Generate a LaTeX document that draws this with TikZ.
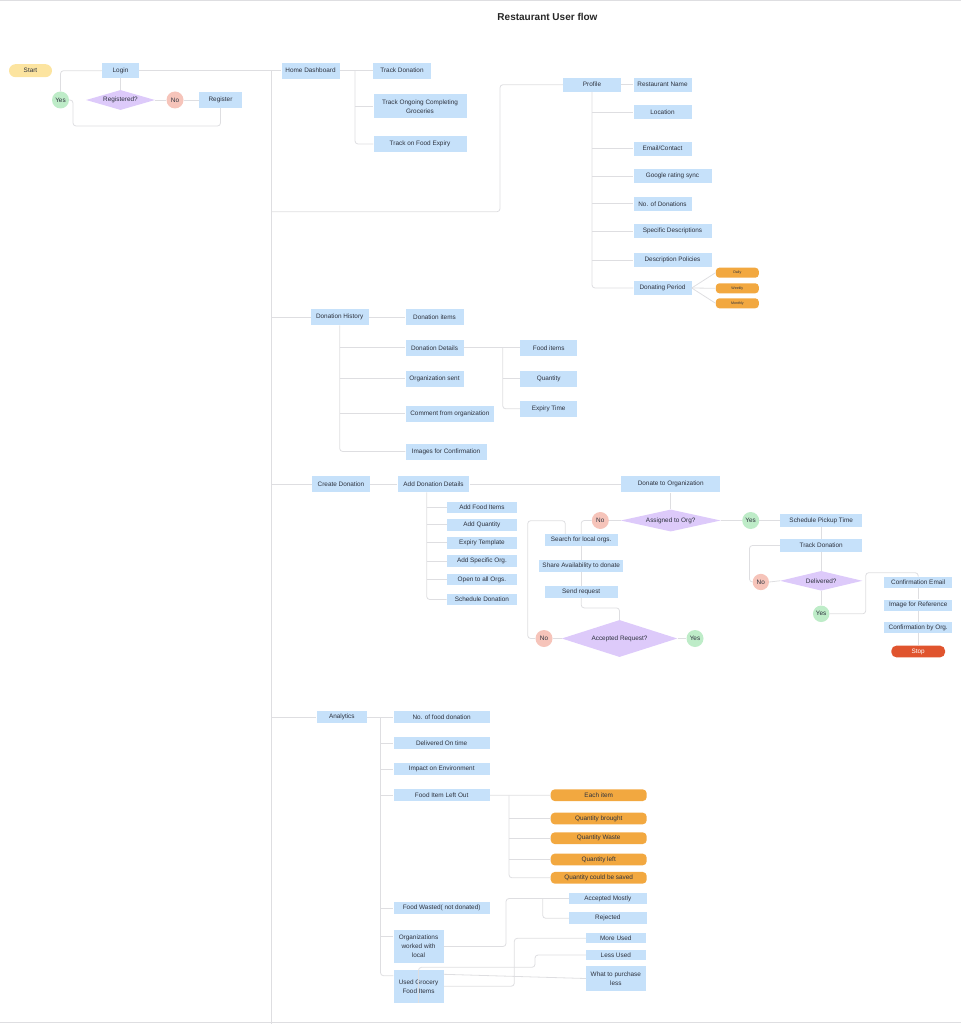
\documentclass[tikz,border=0pt]{standalone}
\usepackage{fontspec}
\setmainfont{Liberation Sans}
\usepackage{tikz}
\usetikzlibrary{shapes.geometric, calc}
\definecolor{boxblue}{RGB}{198,225,250}
\definecolor{linegray}{RGB}{222,222,225}
\definecolor{inkgray}{RGB}{45,50,62}
\definecolor{startyel}{RGB}{252,228,160}
\definecolor{yesgreen}{RGB}{190,236,200}
\definecolor{nored}{RGB}{246,196,186}
\definecolor{decpurple}{RGB}{221,202,250}
\definecolor{tagorange}{RGB}{242,168,64}
\definecolor{stopred}{RGB}{224,84,46}

\begin{document}
\begin{tikzpicture}[
    x=1pt, y=-1pt,
    every node/.style={text=inkgray, font=\fontsize{6.4}{9}\selectfont, inner sep=0pt},
    box/.style={rectangle, fill=boxblue, align=center},
    dec/.style={diamond, aspect=4, fill=decpurple},
    yesc/.style={circle, fill=yesgreen, minimum size=17pt},
    noc/.style={circle, fill=nored, minimum size=17pt},
    tag/.style={rectangle, rounded corners=4pt, fill=tagorange, minimum width=96, minimum height=11.7},
    mini/.style={rectangle, rounded corners=3.5pt, fill=tagorange, minimum width=43, minimum height=10, font=\fontsize{3.6}{4}\selectfont},
    link/.style={draw=linegray, line width=0.8pt, rounded corners=3pt}
]
\useasboundingbox (0,0) rectangle (961,1024);
\draw[linegray, line width=0.6pt] (0,0.6) -- (961,0.6);
\draw[linegray, line width=0.6pt] (0,1022.6) -- (961,1022.6);
\node[font=\fontsize{10}{12}\selectfont\bfseries, text=black!85] (title) at (547.5,16.5) {Restaurant User flow};

% login
\node[rectangle, rounded corners=6.5pt, fill=startyel, minimum width=43, minimum height=13] (start) at (30.5,70.7) {Start};
\node[box, minimum width=37, minimum height=15] (login) at (120.5,70.7) {Login};
\node[dec, minimum width=69, minimum height=20] (reg) at (120.5,100) {Registered?};
\node[yesc] (yes1) at (60.5,100) {Yes};
\node[noc] (no1) at (175,100) {No};
\node[box, minimum width=43, minimum height=16] (register) at (220.5,100) {Register};
\coordinate (regloop) at (73,126);
\draw[link] (yes1.north) |- (login.west);
\draw[link] (login.south) -- (reg.north);
\draw[link] (reg.east) -- (no1.west);
\draw[link] (no1.east) -- (register.west);
\draw[link] (register.south) |- (regloop) |- (yes1.east);

% trunk
\coordinate (trunktop) at (271,70.7);
\coordinate (trunkbot) at (271,1024);
\draw[link] (trunktop) -- (trunkbot);

% home
\node[box, minimum width=58, minimum height=16] (home) at (310.5,70.7) {Home Dashboard};
\node[box, minimum width=58, minimum height=16] (trackdon) at (402,70.7) {Track Donation};
\node[box, minimum width=93, minimum height=24] (trackgro) at (420,106.5) {Track Ongoing Completing\\Groceries};
\node[box, minimum width=93, minimum height=16] (trackexp) at (420,144) {Track on Food Expiry};
\coordinate (hbus) at (355,70.7);
\draw[link] (login.east) -- (home.west);
\draw[link] (home.east) -- (trackdon.west);
\draw[link] (hbus) |- (trackexp.west);
\draw[link] (hbus |- trackgro.west) -- (trackgro.west);

% profile
\node[box, minimum width=58, minimum height=14] (prof) at (592,84.7) {Profile};
\coordinate (pbend) at (500,211.7);
\draw[link] (trunktop |- pbend) -- (pbend) |- (prof.west);
\foreach \n/\y/\w/\txt in {pname/84.7/58/Restaurant Name, ploc/112/58/Location,
    pmail/148.7/58/{Email/Contact}, pgoog/176.3/78/Google rating sync,
    pnum/203.8/58/No. of Donations, pspec/231.3/78/Specific Descriptions,
    ppol/260.3/78/Description Policies, pper/288/58/Donating Period}{
    \node[box, anchor=west, minimum width=\w, minimum height=14] (\n) at (633.3,\y) {\txt};
}
\draw[link] (prof.east) -- (pname.west);
\draw[link] (prof.south) |- (pper.west);
\foreach \n in {ploc, pmail, pgoog, pnum, pspec, ppol}{
    \draw[link] (prof.south |- \n.west) -- (\n.west);
}
\foreach \n/\y/\txt in {daily/272.7/Daily, weekly/288.3/Weekly, monthly/303.3/Monthly}{
    \node[mini] (\n) at (737.3,\y) {\txt};
    \draw[link] (pper.east) -- (\n.west);
}

% donation history
\node[box, minimum width=58, minimum height=16] (dh) at (339.7,317.2) {Donation History};
\foreach \n/\y/\w/\txt in {ditems/317.2/58/Donation items, ddet/347.8/58/Donation Details,
    dorg/378.5/58/Organization sent, dcom/413.5/88.7/Comment from organization,
    dimg/451.5/81/Images for Confirmation}{
    \node[box, anchor=west, minimum width=\w, minimum height=16] (\n) at (405.3,\y) {\txt};
}
\draw[link] (trunktop |- dh.west) -- (dh.west);
\draw[link] (dh.east) -- (ditems.west);
\draw[link] (dh.south) |- (dimg.west);
\foreach \n in {ddet, dorg, dcom}{
    \draw[link] (dh.south |- \n.west) -- (\n.west);
}
\foreach \n/\y/\txt in {dfood/347.8/Food items, dqty/378.5/Quantity, dexp/408.8/Expiry Time}{
    \node[box, anchor=west, minimum width=57, minimum height=16] (\n) at (520,\y) {\txt};
}
\coordinate (dbus) at (502.7,347.8);
\draw[link] (ddet.east) -- (dfood.west);
\draw[link] (dbus) |- (dexp.west);
\draw[link] (dbus |- dqty.west) -- (dqty.west);

% create donation
\node[box, minimum width=58, minimum height=16.7] (cd) at (341,484) {Create Donation};
\node[box, minimum width=71.7, minimum height=16.7] (add) at (433.5,484) {Add Donation Details};
\node[box, minimum width=99.3, minimum height=16.7] (dto) at (670.7,484) {Donate to Organization};
\draw[link] (trunktop |- cd.west) -- (cd.west);
\draw[link] (cd.east) -- (add.west);
\draw[link] (add.east) -- (dto.west);
\foreach \n/\y/\txt in {afood/507.5/Add Food Items, aqty/524.8/Add Quantity,
    aexp/542.8/Expiry Template, aspec/561/Add Specific Org.,
    aopen/579.5/Open to all Orgs., asch/599.5/Schedule Donation}{
    \node[box, anchor=west, minimum width=70, minimum height=11.7] (\n) at (446.7,\y) {\txt};
}
\coordinate (abus) at (426.7,492.3);
\draw[link] (abus) |- (asch.west);
\foreach \n in {afood, aqty, aexp, aspec, aopen}{
    \draw[link] (abus |- \n.west) -- (\n.west);
}

\node[dec, minimum width=100, minimum height=22] (asg) at (670.7,520.5) {Assigned to Org?};
\node[noc] (no2) at (600.3,520.5) {No};
\node[box, minimum width=73, minimum height=11.7] (search) at (581.2,539.8) {Search for local orgs.};
\node[box, minimum width=83.7, minimum height=11.7] (share) at (581.2,565.8) {Share Availability to donate};
\node[box, minimum width=73, minimum height=12] (send) at (581.2,591.7) {Send request};
\node[dec, minimum width=115.6, minimum height=37] (accr) at (619.5,638.5) {Accepted Request?};
\node[noc] (no3) at (544,638.5) {No};
\node[yesc] (yes3) at (695,638.5) {Yes};
\coordinate (retry) at (527.7,520.7);
\coordinate (retry2) at (565.3,520.7);
\draw[link] (dto.south) -- (asg.north);
\draw[link] (asg.west) -- (no2.east);
\draw[link] (no2.west) -| (search.north);
\draw[link] (search.south) -- (share.north);
\draw[link] (share.south) -- (send.north);
\draw[link] (send.south) -- ++(0,10) -| (accr.north);
\draw[link] (accr.west) -- (no3.east);
\draw[link] (accr.east) -- (yes3.west);
\draw[link] (no3.west) -| (retry) -- (retry2) -- (retry2 |- search.north);

\node[yesc] (yes2) at (750.7,520.5) {Yes};
\node[box, minimum width=82.3, minimum height=12.3] (pick) at (821.2,520.5) {Schedule Pickup Time};
\node[box, minimum width=82.3, minimum height=12.3] (track) at (821.2,545.5) {Track Donation};
\node[dec, minimum width=82.4, minimum height=19.7] (deliv) at (821.2,580.8) {Delivered?};
\node[noc, minimum size=16.3pt] (no4) at (760.8,582) {No};
\node[yesc, minimum size=16.5pt] (yes4) at (821.2,613.8) {Yes};
\draw[link] (asg.east) -- (yes2.west);
\draw[link] (yes2.east) -- (pick.west);
\draw[link] (pick.south) -- (track.north);
\draw[link] (track.south) -- (deliv.north);
\draw[link] (deliv.west) -- (no4.east);
\draw[link] (no4.west) -- ++(-3,0) |- (track.west);
\draw[link] (deliv.south) -- (yes4.north);
\node[box, minimum width=68.3, minimum height=11] (cemail) at (918.2,582.2) {Confirmation Email};
\node[box, minimum width=68.3, minimum height=11] (cimg) at (918.2,605) {Image for Reference};
\node[box, minimum width=68.3, minimum height=11] (corg) at (918.2,627.7) {Confirmation by Org.};
\node[rectangle, rounded corners=5pt, fill=stopred, text=white, minimum width=53.7, minimum height=11.7] (stop) at (918.2,651.5) {Stop};
\coordinate (cbend) at (865.7,572.7);
\draw[link] (yes4.east) -| (cbend) -| (cemail.north);
\draw[link] (cemail.south) -- (cimg.north);
\draw[link] (cimg.south) -- (corg.north);
\draw[link] (corg.south) -- (stop.north);

% analytics
\node[box, minimum width=50.3, minimum height=12] (ana) at (341.8,717.3) {Analytics};
\foreach \n/\y/\txt in {annum/717.3/No. of food donation, andel/743.3/Delivered On time,
    animp/769.3/Impact on Environment, anleft/795.3/Food Item Left Out,
    anwaste/908.3/Food Wasted( not donated)}{
    \node[box, anchor=west, minimum width=96.3, minimum height=12] (\n) at (393.3,\y) {\txt};
}
\node[box, anchor=west, minimum width=50, minimum height=33] (anorg) at (393.3,946.5) {Organizations\\worked with\\local};
\node[box, anchor=west, minimum width=50, minimum height=33] (angroc) at (393.3,986.2) {Used Grocery\\Food Items};
\coordinate (anbus) at (380.5,717.3);
\draw[link] (trunktop |- ana.west) -- (ana.west);
\draw[link] (ana.east) -- (annum.west);
\draw[link] (anbus) |- ([yshift=10.5pt]angroc.west);
\draw[link] (anbus |- anorg.west) ++(0,-10.5) -- ([yshift=10.5pt]anorg.west);
\foreach \n in {andel, animp, anleft, anwaste}{
    \draw[link] (anbus |- \n.west) -- (\n.west);
}
\foreach \n/\y/\txt in {teach/795.2/Each item, tbro/818.5/Quantity brought,
    twas/838.2/Quantity Waste, tleft/859.5/Quantity left,
    tsave/877.8/Quantity could be saved}{
    \node[tag] (\n) at (598.7,\y) {\txt};
}
\coordinate (tbus) at (509,795.3);
\draw[link] (anleft.east) -- (teach.west);
\draw[link] (tbus) |- (tsave.west);
\foreach \n in {tbro, twas, tleft}{
    \draw[link] (tbus |- \n.west) -- (\n.west);
}

\node[box, minimum width=77.7, minimum height=11.7] (racc) at (607.8,898.5) {Accepted Mostly};
\node[box, minimum width=77.7, minimum height=11.7] (rrej) at (607.8,918.3) {Rejected};
\coordinate (obus) at (506,898.5);
\coordinate (rbus) at (542.7,898.5);
\draw[link] (anorg.east) -| (obus) -- (racc.west);
\draw[link] (rbus) |- (rrej.west);

\node[box, minimum width=59.7, minimum height=10] (umore) at (615.8,938.3) {More Used};
\node[box, minimum width=59.7, minimum height=10] (uless) at (615.8,955) {Less Used};
\node[box, minimum width=59.7, minimum height=24.3] (upur) at (615.8,978.5) {What to purchase\\less};
\coordinate (gbus1) at (514.3,938.3);
\coordinate (gbus2) at (535,967.3);
\draw[link] (angroc.east) -| (gbus1) -- (umore.west);
\draw[link] (angroc.south) |- (gbus2) |- (uless.west);
\draw[link] ([yshift=11.9pt]angroc.east) -- (upur.west);
\end{tikzpicture}
\end{document}
